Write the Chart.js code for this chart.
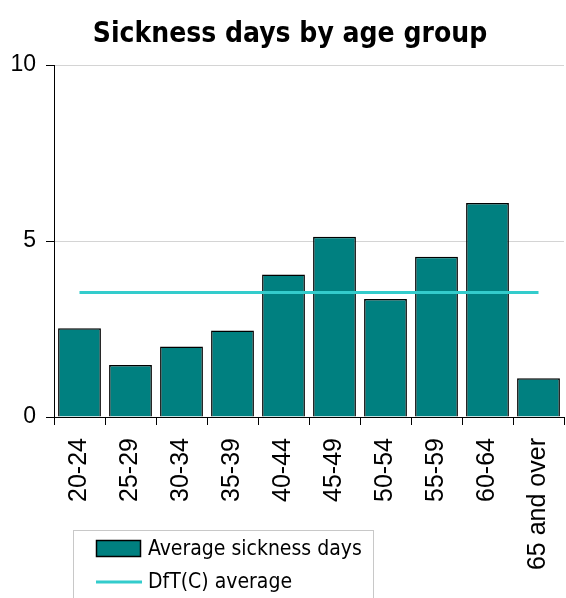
<!DOCTYPE html>
<html>
<head>
<meta charset="utf-8">
<script src="https://cdn.jsdelivr.net/npm/chart.js@4/dist/chart.umd.min.js"></script>
<style>
  html, body { margin: 0; padding: 0; background: #fff; }
  #wrap { width: 566px; height: 598px; position: relative; }
</style>
</head>
<body>
<div id="wrap"><canvas id="c" width="566" height="598"></canvas></div>
<script>
// Age bands and average sickness days per employee
const categories = ['20-24', '25-29', '30-34', '35-39', '40-44', '45-49', '50-54', '55-59', '60-64', '65 and over'];
const sicknessDays = [2.52, 1.48, 2.0, 2.46, 4.05, 5.12, 3.35, 4.55, 6.08, 1.10];
// Organisation-wide average, repeated across all age bands
const dftAverage = [3.54, 3.54, 3.54, 3.54, 3.54, 3.54, 3.54, 3.54, 3.54, 3.54];
const yTicks = [0, 5, 10];

const TITLE = 'Sickness days by age group';
const titleFont = 'bold 28px "DejaVu Sans Condensed", "DejaVu Sans", sans-serif';
const legendFont = '21px "DejaVu Sans Condensed", "DejaVu Sans", sans-serif';
const tickFamily = '"Liberation Sans", Arial, sans-serif';

// Title and boxed legend drawn on the canvas
const decorations = {
  id: 'decorations',
  afterDraw(chart) {
    const ctx = chart.ctx;
    ctx.save();
    ctx.fillStyle = '#000';
    ctx.font = titleFont;
    ctx.textAlign = 'center';
    ctx.textBaseline = 'alphabetic';
    ctx.fillText(TITLE, 290, 42);

    // legend box
    const bx = 73.5, by = 530.5, bw = 300, bh = 80;
    ctx.fillStyle = '#fff';
    ctx.fillRect(bx, by, bw, bh);
    ctx.strokeStyle = '#c8c8c8';
    ctx.lineWidth = 1;
    ctx.strokeRect(bx, by, bw, bh);

    const ds = chart.data.datasets;
    const barDs = ds.find(d => d.type === 'bar');
    const lineDs = ds.find(d => d.type === 'line');
    ctx.font = legendFont;
    ctx.textAlign = 'left';
    ctx.textBaseline = 'middle';

    ctx.fillStyle = barDs.backgroundColor;
    ctx.fillRect(96.5, 540.5, 44, 16);
    ctx.strokeStyle = '#000';
    ctx.lineWidth = 1.5;
    ctx.strokeRect(96.5, 540.5, 44, 16);
    ctx.fillStyle = '#000';
    ctx.fillText(barDs.label, 148, 550);

    ctx.strokeStyle = lineDs.borderColor;
    ctx.lineWidth = 3;
    ctx.beginPath();
    ctx.moveTo(96, 582);
    ctx.lineTo(142, 582);
    ctx.stroke();
    ctx.fillStyle = '#000';
    ctx.fillText(lineDs.label, 148, 583);
    ctx.restore();
  }
};

new Chart(document.getElementById('c'), {
  data: {
    labels: categories,
    datasets: [
      {
        type: 'line',
        label: 'DfT(C) average',
        data: dftAverage,
        borderColor: '#33CCCC',
        borderWidth: 3,
        pointRadius: 0,
        tension: 0,
        order: 0
      },
      {
        type: 'bar',
        label: 'Average sickness days',
        data: sicknessDays,
        backgroundColor: '#008080',
        borderColor: '#000',
        borderWidth: 1.5,
        categoryPercentage: 0.84,
        barPercentage: 1.0,
        order: 1
      }
    ]
  },
  options: {
    responsive: false,
    animation: false,
    events: [],
    layout: { padding: { top: 65, right: 2, left: 0, bottom: 0 } },
    plugins: {
      legend: { display: false },
      title: { display: false },
      tooltip: { enabled: false }
    },
    scales: {
      x: {
        offset: true,
        grid: {
          offset: true,
          drawOnChartArea: false,
          drawTicks: true,
          tickLength: 8,
          tickColor: '#000'
        },
        border: { color: '#000', width: 1 },
        ticks: {
          color: '#000',
          font: { family: tickFamily, size: 25 },
          minRotation: 90,
          maxRotation: 90,
          autoSkip: false,
          padding: 13
        },
        afterFit(scale) {
          scale.height = 181;
          scale.paddingLeft = 0;
          scale.paddingRight = 0;
        }
      },
      y: {
        min: 0,
        max: 10,
        afterBuildTicks(scale) { scale.ticks = yTicks.map(v => ({ value: v })); },
        grid: {
          color: '#d4d4d4',
          lineWidth: 1,
          drawTicks: true,
          tickLength: 8,
          tickColor: '#000'
        },
        border: { color: '#000', width: 1 },
        ticks: {
          color: '#000',
          font: { family: tickFamily, size: 23 },
          padding: 10
        },
        afterFit(scale) { scale.width = 54; }
      }
    }
  },
  plugins: [decorations]
});
</script>
</body>
</html>
